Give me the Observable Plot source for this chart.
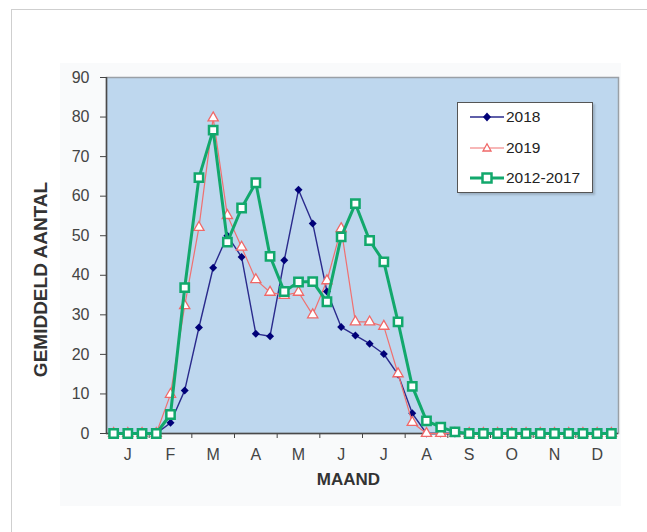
<!DOCTYPE html>
<html>
<head>
<meta charset="utf-8">
<script src="https://cdn.jsdelivr.net/npm/d3@7"></script>
<script src="https://cdn.jsdelivr.net/npm/@observablehq/plot@0.6"></script>
<style>
  html, body { margin: 0; padding: 0; background: #ffffff; }
  body { font-family: Arial, "Liberation Sans", sans-serif; }
  #wrap { position: relative; width: 647px; height: 532px; overflow: hidden; }
  #pageborder { position: absolute; left: 11px; top: 9px; width: 660px; height: 560px; border: 1px solid #cfcfcf; box-sizing: border-box; }
  #area { position: absolute; left: 60px; top: 63px; width: 561px; height: 443px; background: #f9fafb; }
  #chart { position: absolute; left: 0; top: 0; }
  #legend { position: absolute; left: 457px; top: 102px; width: 136px; height: 91px; box-sizing: border-box;
            background: #ffffff; border: 1.5px solid #555; box-shadow: 2px 2px 2px rgba(0,0,0,0.18); }
  .row { position: absolute; left: 11px; height: 16px; display: flex; align-items: center; }
  .row svg { display: block; }
  .row span { font-size: 15.5px; color: #222; margin-left: 1px; line-height: 16px; }
</style>
</head>
<body>
<div id="wrap">
  <div id="area"></div>
  <div id="chart"></div>
  <div id="legend"></div>
  <div id="pageborder"></div>
</div>
<script>
// Month labels (x axis) and series names
const months = ["J","F","M","A","M","J","J","A","S","O","N","D"];
const seriesNames = ["2018", "2019", "2012-2017"];
// Values per decade (3 per month, 36 per year)
const v2018 = [0,0,0,0,2.7,10.9,26.8,41.9,50,44.6,25.2,24.6,43.8,61.6,53.1,35.9,26.9,24.8,22.7,20.1,14.9,5.1,0,0,0,0,0,0,0,0,0,0,0,0,0,0];
const v2019 = [0,0,0,0,9.9,32.3,52.1,79.8,55.1,47.1,38.9,35.7,34.9,35.7,30,38.6,51.8,28.2,28.2,27.1,15.1,2.8,0,0,0,0,0,0,0,0,0,0,0,0,0,0];
const v1217 = [0,0,0,0,4.8,36.9,64.7,76.7,48.4,57,63.4,44.8,35.9,38.3,38.4,33.3,49.7,58.1,48.8,43.4,28.2,11.9,3.2,1.6,0.4,0,0,0,0,0,0,0,0,0,0,0];
const yTicks = [0,10,20,30,40,50,60,70,80,90];

const colors = {"2018": "#000078", "2019": "#f06868", "2012-2017": "#12a86c"};
const lineColors = {"2018": "#2a2a8c", "2019": "#f07070", "2012-2017": "#12a86c"};

const toRows = (name, vals) => vals.map((v, i) => ({series: name, i, v}));
const d2018 = toRows("2018", v2018);
const d2019 = toRows("2019", v2019);
const d1217 = toRows("2012-2017", v1217);

const monthCenters = months.map((m, k) => k * 3 + 1);
const monthBounds = d3.range(1, 12).map(k => k * 3 - 0.5);

const plot = Plot.plot({
  width: 647,
  height: 532,
  marginLeft: 106,
  marginRight: 29,
  marginTop: 77,
  marginBottom: 99,
  style: {background: "transparent", fontFamily: "Arial, 'Liberation Sans', sans-serif", overflow: "visible"},
  x: {domain: [-0.5, 35.5], axis: null},
  y: {domain: [0, 90], axis: null},
  marks: [
    Plot.frame({fill: "#bed7ee", stroke: "#9aa0a6", strokeWidth: 1.5}),
    Plot.axisY({ticks: yTicks, tickSize: 6, tickPadding: 11, fontSize: 16, fill: "#444", stroke: "#444", label: null}),
    Plot.axisX({ticks: monthBounds, tickSize: 5, tickFormat: () => "", stroke: "#444", label: null}),
    Plot.axisX({ticks: monthCenters, tickSize: 0, tickPadding: 15, fontSize: 16, fill: "#444",
                tickFormat: d => months[(d - 1) / 3], label: null}),
    Plot.ruleX([-0.5], {stroke: "#4a4a4a", strokeWidth: 1.5}),
    Plot.ruleY([0], {stroke: "#4a4a4a", strokeWidth: 1.5}),
    // 2018 (drawn first, below)
    Plot.line(d2018, {x: "i", y: "v", stroke: lineColors["2018"], strokeWidth: 1.4}),
    Plot.dot(d2018, {x: "i", y: "v", symbol: "diamond2", r: 3.6, fill: colors["2018"], stroke: "none"}),
    // 2019
    Plot.line(d2019, {x: "i", y: "v", stroke: lineColors["2019"], strokeWidth: 1.2}),
    Plot.dot(d2019, {x: "i", y: "v", symbol: "triangle", r: 3.8, fill: "#ffffff", stroke: colors["2019"], strokeWidth: 1.3}),
    // 2012-2017 (top)
    Plot.line(d1217, {x: "i", y: "v", stroke: lineColors["2012-2017"], strokeWidth: 3}),
    Plot.dot(d1217, {x: "i", y: "v", symbol: "square", r: 4.7, fill: "#ffffff", stroke: colors["2012-2017"], strokeWidth: 2.5}),
    // axis titles
    Plot.text(["GEMIDDELD AANTAL"], {frameAnchor: "left", textAnchor: "middle", lineAnchor: "middle", dx: -66, dy: 24, rotate: -90, fontSize: 19, fontWeight: "bold", fill: "#333"}),
    Plot.text(["MAAND"], {frameAnchor: "bottom", textAnchor: "middle", lineAnchor: "middle", dx: -14, dy: 46, fontSize: 17, fontWeight: "bold", fill: "#333"})
  ]
});
document.getElementById("chart").appendChild(plot);

// Legend
const legend = document.getElementById("legend");
const rowTops = [6, 37, 67];
seriesNames.forEach((name, k) => {
  const row = document.createElement("div");
  row.className = "row";
  row.style.top = rowTops[k] + "px";
  let marker = "";
  if (name === "2018") marker = `<path d="M18,3.5 L22,8 L18,12.5 L14,8 Z" fill="${colors[name]}"/>`;
  if (name === "2019") marker = `<path d="M18,3.8 L22,11 L14,11 Z" fill="#fff" stroke="${colors[name]}" stroke-width="1.3"/>`;
  if (name === "2012-2017") marker = `<rect x="13.5" y="3.5" width="9" height="9" fill="#fff" stroke="${colors[name]}" stroke-width="2.5"/>`;
  const sw = name === "2012-2017" ? 3 : (name === "2018" ? 1.4 : 1.2);
  row.innerHTML = `<svg width="36" height="16"><line x1="1" y1="8" x2="35" y2="8" stroke="${lineColors[name]}" stroke-width="${sw}"/>${marker}</svg><span>${name}</span>`;
  legend.appendChild(row);
});
</script>
</body>
</html>
